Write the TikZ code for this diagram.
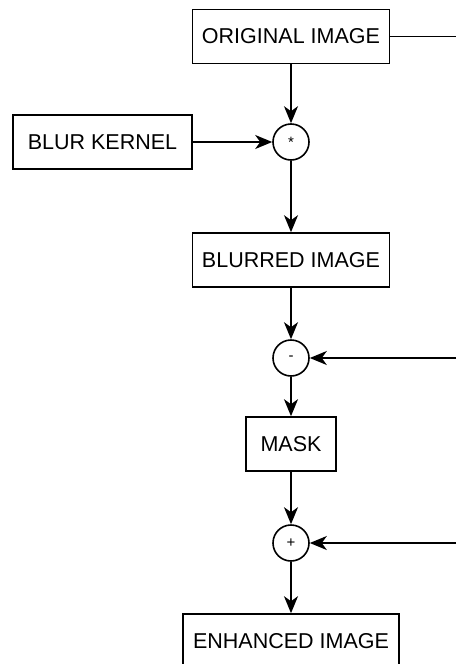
\documentclass[tikz,border=0pt]{standalone}
\usepackage{fontspec}
\setmainfont{Liberation Sans}
\usetikzlibrary{positioning, arrows.meta}

\begin{document}
\begin{tikzpicture}[x=1pt, y=-1pt,
    box/.style={draw, rectangle, line width=1.6pt, minimum height=54pt, inner sep=0pt,
      font=\fontsize{21.5}{24}\selectfont},
    sum/.style={draw, circle, line width=1.6pt, minimum size=36pt, inner sep=0pt,
      font=\fontsize{15}{17}\selectfont},
    flow/.style={line width=1.6pt, -{Stealth[length=17pt, width=14pt, inset=5pt]}}]
  \useasboundingbox (0,0) rectangle (456,664);
  \node[box, minimum width=197pt] (orig) at (291,36.5) {ORIGINAL IMAGE};
  \node[box, minimum width=179pt] (kernel) at (102.5,142) {BLUR KERNEL};
  \node[sum] (conv) at (291,142) {*};
  \node[box, minimum width=197pt] (blurred) at (291,260) {BLURRED IMAGE};
  \node[sum] (minus) at (291,358) {-};
  \node[box, minimum width=90pt] (mask) at (291,444) {MASK};
  \node[sum] (plus) at (291,543) {+};
  \node[box, minimum width=216pt] (enhanced) at (291,641) {ENHANCED IMAGE};
  \coordinate (origout) at (456,36.5);
  \coordinate (minusin) at (456,358);
  \coordinate (plusin) at (456,543);
  \draw[line width=1.6pt] (orig) -- (origout);
  \draw[flow] (orig) -- (conv);
  \draw[flow] (kernel) -- (conv);
  \draw[flow] (conv) -- (blurred);
  \draw[flow] (blurred) -- (minus);
  \draw[flow] (minusin) -- (minus);
  \draw[flow] (minus) -- (mask);
  \draw[flow] (mask) -- (plus);
  \draw[flow] (plusin) -- (plus);
  \draw[flow] (plus) -- (enhanced);
\end{tikzpicture}
\end{document}
